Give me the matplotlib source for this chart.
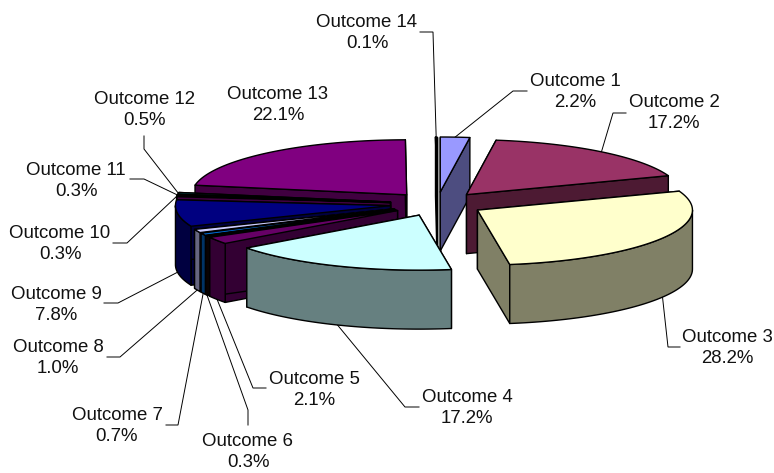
import matplotlib
matplotlib.use('Agg')
import matplotlib.pyplot as plt
from matplotlib.patches import Polygon
import numpy as np

plt.rcParams['font.family'] = ['Liberation Sans', 'DejaVu Sans']

# values of the pie, in percent
outcomes = ['Outcome 1', 'Outcome 2', 'Outcome 3', 'Outcome 4', 'Outcome 5', 'Outcome 6', 'Outcome 7',
            'Outcome 8', 'Outcome 9', 'Outcome 10', 'Outcome 11', 'Outcome 12', 'Outcome 13', 'Outcome 14']
shares = [2.2, 17.2, 28.2, 17.2, 2.1, 0.3, 0.7, 1.0, 7.8, 0.3, 0.3, 0.5, 22.1, 0.1]

top_colors = ['#9999FF', '#993366', '#FFFFCC', '#CCFFFF', '#660066', '#401010', '#0066CC',
              '#CCCCFF', '#000080', '#800080', '#101010', '#006666', '#800080', '#800000']

# label centres and the elbow of each leader line, in pixels
label_xy = [(575, 92), (674, 113), (727, 348), (467, 408), (314, 390), (248, 452), (117, 426),
            (58, 358), (56, 305), (60, 244), (76, 181), (144, 110), (278, 105), (367, 33)]
leader_start = [(527, 91), (626, 113), (680, 347), (419, 407), (266, 388), (248, 425), (166, 425),
                (107, 357), (104, 303), (113, 243), (130, 179), (144, 136), (278, 104), (420, 32)]
leader_elbow = [(513, 91), (613, 113), (668, 347), (405, 407), (253, 388), (248, 410), (178, 425),
                (120, 357), (118, 303), (127, 243), (144, 179), (144, 149), (278, 104), (433, 32)]

# pie geometry in pixels
cx, cy = 437, 204
rx, ry = 215, 55
depth = 59
explode = 47


def pt(deg, r=1.0, ox=0.0, oy=0.0):
    a = np.radians(deg)
    return ox + rx * r * np.sin(a), oy - ry * r * np.cos(a)


def darker(c):
    rgb = matplotlib.colors.to_rgb(c)
    return tuple(v * 0.5 for v in rgb)


fig = plt.figure(figsize=(7.74, 4.73), dpi=100)
ax = fig.add_axes([0, 0, 1, 1])
ax.set_xlim(0, 774)
ax.set_ylim(473, 0)
ax.axis('off')

edges = np.cumsum([0] + shares) / sum(shares) * 360
mids = (edges[:-1] + edges[1:]) / 2
lw = 1.0

# back slices first
order = sorted(range(len(shares)), key=lambda i: -np.cos(np.radians(mids[i])))
for z, i in enumerate(order):
    a0, a1 = edges[i], edges[i + 1]
    # explode is a radial move on the flattened circle
    ox, oy = pt(mids[i], explode / rx, cx, cy)
    side = darker(top_colors[i])
    zb = z * 10

    for a in (a0, a1):
        x, y = pt(a, 1, ox, oy)
        ax.add_patch(Polygon([(ox, oy), (x, y), (x, y + depth), (ox, oy + depth)], closed=True,
                             fc=side, ec='black', lw=lw, zorder=zb, joinstyle='round'))

    lo, hi = max(a0, 90), min(a1, 270)
    if hi > lo:
        arc = np.linspace(lo, hi, 60)
        px, py = pt(arc, 1, ox, oy)
        outline = list(zip(px, py)) + list(zip(px[::-1], py[::-1] + depth))
        ax.add_patch(Polygon(outline, closed=True, fc=side, ec='black', lw=lw, zorder=zb + 1,
                             joinstyle='round'))

    arc = np.linspace(a0, a1, 80)
    px, py = pt(arc, 1, ox, oy)
    ax.add_patch(Polygon([(ox, oy)] + list(zip(px, py)), closed=True, fc=top_colors[i], ec='black',
                         lw=lw, zorder=zb + 2, joinstyle='round'))

# leader lines and labels
for i, name in enumerate(outcomes):
    ox, oy = pt(mids[i], explode / rx, cx, cy)
    ex, ey = pt(mids[i], 1, ox, oy)
    if 90 < mids[i] < 270:
        ey += depth
    if name != 'Outcome 13':
        sx, sy = leader_start[i]
        bx, by = leader_elbow[i]
        ax.plot([sx, bx, ex], [sy, by, ey], color='black', lw=0.7, zorder=5,
                solid_joinstyle='miter')
    lx, ly = label_xy[i]
    ax.text(lx, ly, f'{name}\n{shares[i]:.1f}%', ha='center', va='center', ma='center',
            fontsize=13.4, color='#111111', linespacing=1.3, zorder=500)

fig.savefig('out.png', dpi=100, facecolor='white')
